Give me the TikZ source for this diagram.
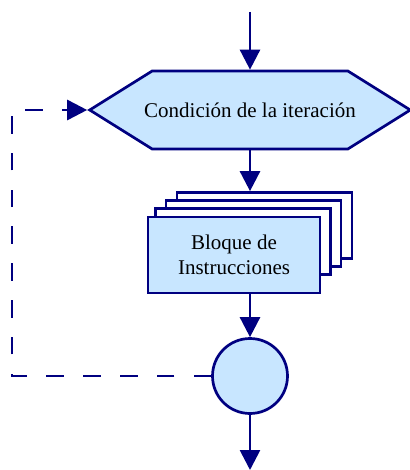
\documentclass[tikz,border=0pt]{standalone}
\usepackage{fontspec}
\setmainfont{Liberation Serif}
\usetikzlibrary{arrows.meta,shapes.symbols}
\definecolor{azul}{RGB}{0,0,128}
\definecolor{celeste}{RGB}{200,230,255}

\begin{document}
\begin{tikzpicture}[x=1pt, y=-1pt, line width=2.7pt,
  every node/.style={font=\fontsize{21}{25}\selectfont},
  flecha/.style={draw=azul, -{Triangle[length=20pt,width=20pt]}},
  caja/.style={draw=azul, fill=celeste, rectangle, minimum width=172pt, minimum height=76pt, align=center, inner sep=0pt},
  copia/.style={draw=azul, fill=white, rectangle, minimum width=175pt, minimum height=66pt, inner sep=0pt}]
  \useasboundingbox (0,0) rectangle (409,470);
  % condition hexagon
  \node[draw=azul, fill=celeste, signal, signal to=west and east, signal pointer angle=64, minimum height=78pt, inner xsep=-8pt, inner ysep=0pt] (cond) at (250,110) {Condición de la iteración};
  % stacked copies behind the block
  \node[copia] (copia3) at (264.5,225.5) {};
  \node[copia] (copia2) at (253.5,233.5) {};
  \node[copia] (copia1) at (243,241.5) {};
  \node[caja] (bloque) at (234,255) {Bloque de\\Instrucciones};
  % connector circle
  \node[draw=azul, fill=celeste, circle, minimum size=75pt, inner sep=0pt] (conector) at (250,376) {};
  % free ends
  \coordinate (inicio) at (250,12);
  \coordinate (fin) at (250,470);
  \coordinate (retorno) at (12,0);
  % arrows
  \draw[flecha] (inicio) -- (cond.north);
  \draw[flecha] (cond.south) -- (cond.south |- copia3.north);
  \draw[flecha] (bloque.south -| conector.north) -- (conector.north);
  \draw[flecha] (conector.south) -- (fin);
  \draw[flecha, dash pattern=on 17.5pt off 19.3pt] (conector.west) -- (conector.west -| retorno) |- (cond.west);
\end{tikzpicture}
\end{document}
